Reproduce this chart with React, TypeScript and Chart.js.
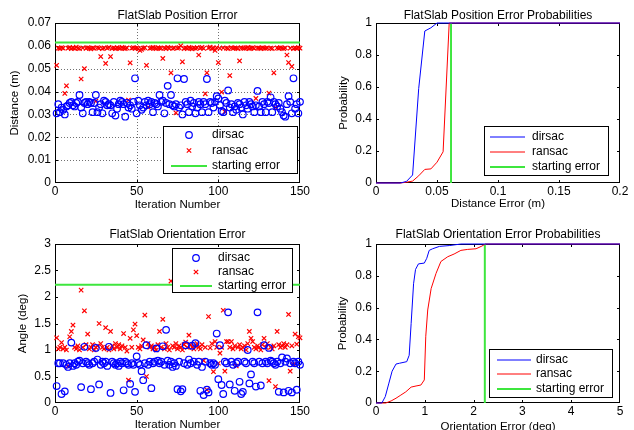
import React, { useEffect, useRef } from "react";
import { Chart, registerables } from "chart.js";

Chart.register(...registerables);

const FONT = '"Liberation Sans", Arial, Helvetica, sans-serif';
const BLUE = "#0000ff";
const RED = "#ff0000";
const GREEN = "#3ee63e";

// ---------- data ----------
const startPosErr = 0.0615;
const startOriErr = 2.23;

const iterTicks = [0, 50, 100, 150];
const posYTicks = [0, 0.01, 0.02, 0.03, 0.04, 0.05, 0.06, 0.07];
const probTicks = [0, 0.2, 0.4, 0.6, 0.8, 1];
const distTicks = [0, 0.05, 0.1, 0.15, 0.2];
const angleTicks = [0, 0.5, 1, 1.5, 2, 2.5, 3];
const oriTicks = [0, 1, 2, 3, 4, 5];

const posDirsac = [
  0.0305, 0.0345, 0.031, 0.033, 0.032, 0.03, 0.0335, 0.034, 0.035, 0.0355,
  0.034, 0.0335, 0.035, 0.0355, 0.0385, 0.033, 0.0305, 0.035, 0.0355, 0.0345,
  0.0355, 0.035, 0.031, 0.035, 0.0385, 0.031, 0.033, 0.0345, 0.0305, 0.036,
  0.0355, 0.034, 0.0345, 0.034, 0.0305, 0.0355, 0.0295, 0.0325, 0.0345, 0.036,
  0.0355, 0.0345, 0.029, 0.035, 0.033, 0.034, 0.0325, 0.0355, 0.0458, 0.0305,
  0.036, 0.034, 0.032, 0.033, 0.0355, 0.034, 0.036, 0.0345, 0.0355, 0.031,
  0.035, 0.0345, 0.0335, 0.0385, 0.0355, 0.036, 0.0305, 0.035, 0.0425, 0.0345,
  0.0385, 0.034, 0.0335, 0.0345, 0.0458, 0.033, 0.034, 0.03, 0.0455, 0.0355,
  0.0345, 0.031, 0.036, 0.0335, 0.035, 0.0305, 0.033, 0.0355, 0.0345, 0.031,
  0.0355, 0.0345, 0.0455, 0.031, 0.0355, 0.035, 0.033, 0.0355, 0.038, 0.037,
  0.034, 0.0315, 0.031, 0.036, 0.035, 0.0405, 0.033, 0.0345, 0.031, 0.0335,
  0.032, 0.035, 0.0345, 0.033, 0.03, 0.0355, 0.034, 0.0325, 0.0355, 0.0345,
  0.0335, 0.031, 0.034, 0.0403, 0.0335, 0.031, 0.0355, 0.0345, 0.031, 0.0355,
  0.035, 0.0375, 0.031, 0.0355, 0.0345, 0.0335, 0.035, 0.0325, 0.031, 0.0295,
  0.029, 0.0345, 0.038, 0.0355, 0.0305, 0.0458, 0.0325, 0.0345, 0.0305, 0.0355,
];

const posRansac = [
  0.0515, 0.059, 0.0588, 0.0592, 0.059, 0.0392, 0.0425, 0.059, 0.0593, 0.0588,
  0.0591, 0.0589, 0.0594, 0.059, 0.0588, 0.0455, 0.0591, 0.05, 0.0589, 0.0592,
  0.059, 0.0587, 0.0591, 0.0589, 0.0358, 0.0592, 0.059, 0.0553, 0.0588, 0.0591,
  0.0523, 0.059, 0.0593, 0.0553, 0.0589, 0.0591, 0.0588, 0.0592, 0.059, 0.0589,
  0.0593, 0.059, 0.0588, 0.0591, 0.0363, 0.0526, 0.059, 0.0592, 0.0589, 0.0591,
  0.0588, 0.058, 0.0585, 0.059, 0.0592, 0.0515, 0.0332, 0.0589, 0.0591, 0.0593,
  0.059, 0.0588, 0.0592, 0.059, 0.0589, 0.0545, 0.0591, 0.0588, 0.0593, 0.059,
  0.0482, 0.0589, 0.0591, 0.0307, 0.059, 0.0592, 0.06, 0.053, 0.0588, 0.0591,
  0.0589, 0.0593, 0.059, 0.0587, 0.0591, 0.0589, 0.0592, 0.056, 0.059, 0.0593,
  0.0589, 0.039, 0.0482, 0.0591, 0.0594, 0.0588, 0.059, 0.058, 0.0592, 0.0527,
  0.0589, 0.0398, 0.0591, 0.0312, 0.059, 0.0588, 0.047, 0.0592, 0.0589, 0.0591,
  0.059, 0.0588, 0.0534, 0.0592, 0.059, 0.0589, 0.0591, 0.0593, 0.0588, 0.059,
  0.0592, 0.0589, 0.037, 0.0591, 0.059, 0.0588, 0.0592, 0.059, 0.0589, 0.0591,
  0.0393, 0.059, 0.0588, 0.0482, 0.033, 0.0591, 0.0589, 0.0592, 0.059, 0.0588,
  0.0591, 0.056, 0.0527, 0.059, 0.051, 0.0588, 0.0591, 0.0589, 0.0592, 0.059,
];

const oriDirsac = [
  0.32, 0.75, 0.75, 0.17, 0.75, 0.22, 0.72, 0.68, 0.75, 1.14,
  0.7, 0.75, 0.72, 0.78, 0.8, 0.3, 0.75, 1.06, 0.78, 0.75,
  0.72, 0.26, 0.75, 0.78, 1.04, 0.82, 0.35, 0.72, 0.78, 0.75,
  0.78, 0.7, 1.06, 0.19, 0.78, 0.75, 0.72, 0.75, 0.7, 0.78,
  0.75, 0.24, 0.78, 0.75, 0.72, 0.36, 0.75, 0.72, 0.21, 0.88,
  0.75, 0.72, 0.6, 0.43, 0.75, 1.09, 0.72, 0.78, 0.28, 0.75,
  0.78, 1.03, 0.8, 0.75, 0.78, 1.07, 0.72, 1.38, 0.8, 0.72,
  0.78, 0.68, 0.75, 0.7, 0.26, 0.78, 0.22, 0.26, 0.75, 1.09,
  0.72, 0.82, 0.75, 1.08, 0.78, 1.13, 0.72, 0.78, 0.23, 0.68,
  0.15, 0.78, 0.25, 0.2, 0.75, 0.72, 0.75, 0.72, 1.31, 0.45,
  1.09, 0.34, 0.17, 0.78, 0.75, 1.71, 0.35, 0.78, 0.72, 0.23,
  0.75, 0.78, 0.4, 0.17, 0.21, 0.78, 0.75, 1.0, 0.37, 0.54,
  0.78, 0.75, 0.31, 1.71, 0.78, 0.33, 0.75, 1.09, 0.78, 0.75,
  1.04, 0.8, 0.78, 0.75, 0.72, 0.78, 0.21, 0.75, 0.86, 0.2,
  0.78, 0.84, 0.23, 0.75, 0.2, 0.78, 0.75, 0.25, 0.78, 0.72,
];

const oriRansac = [
  1.23, 1.02, 1.05, 1.14, 1.02, 1.05, 1.0, 0.7, 1.25, 1.35,
  1.47, 1.05, 1.02, 1.08, 1.0, 2.13, 1.05, 1.74, 1.1, 1.3,
  1.02, 1.05, 1.1, 1.0, 1.05, 1.08, 1.5, 1.12, 1.05, 1.02,
  1.42, 1.05, 1.0, 1.35, 1.08, 1.02, 1.12, 1.05, 1.1, 1.02,
  1.08, 1.31, 1.05, 0.98, 0.43, 1.22, 1.05, 1.38, 1.49, 1.27,
  1.05, 1.02, 1.08, 1.19, 1.66, 0.5, 1.12, 1.05, 1.08, 1.02,
  1.05, 1.0, 1.1, 1.35, 1.05, 1.58, 1.02, 1.12, 1.05, 1.0,
  2.3, 1.08, 1.05, 1.12, 1.02, 1.08, 1.05, 1.0, 1.1, 1.15,
  1.05, 1.28, 1.1, 1.05, 1.02, 1.08, 1.12, 1.05, 1.02, 1.1,
  0.8, 1.05, 0.25, 1.63, 1.04, 1.12, 0.59, 1.16, 1.05, 0.75,
  0.94, 1.05, 1.75, 0.6, 1.16, 1.16, 1.05, 1.16, 1.02, 1.08,
  0.7, 1.05, 1.1, 1.02, 1.05, 1.08, 1.0, 1.12, 1.35, 1.22,
  1.16, 1.05, 1.02, 1.08, 1.05, 1.0, 1.1, 1.22, 1.05, 1.12,
  0.42, 1.05, 1.02, 1.08, 0.31, 1.35, 1.1, 1.05, 1.08, 1.12,
  1.05, 1.1, 1.67, 0.6, 1.08, 0.73, 1.3, 1.11, 1.25, 1.23,
];

const posCdfX = [0, 0.02, 0.025, 0.03, 0.035, 0.04, 0.045, 0.05, 0.055, 0.06, 0.065, 0.2];
const posCdfDirsac = [0, 0, 0.01, 0.05, 0.59, 0.95, 0.97, 1, 1, 1, 1, 1];
const posCdfRansac = [0, 0, 0.005, 0.012, 0.045, 0.085, 0.088, 0.13, 0.195, 1, 1, 1];

const oriCdfDirsacX = [0, 0.12, 0.19, 0.26, 0.33, 0.41, 0.48, 0.63, 0.68, 0.72, 0.77, 0.81, 0.87, 0.99, 1.04, 1.09, 1.16, 1.3, 1.5, 1.74, 5];
const oriCdfDirsacY = [0, 0, 0.04, 0.12, 0.2, 0.245, 0.25, 0.26, 0.3, 0.5, 0.75, 0.84, 0.875, 0.88, 0.91, 0.96, 0.97, 0.985, 0.99, 1, 1];
const oriCdfRansacX = [0, 0.2, 0.31, 0.41, 0.51, 0.61, 0.72, 0.82, 0.92, 0.99, 1.02, 1.06, 1.13, 1.23, 1.33, 1.47, 1.6, 1.74, 1.88, 2.05, 2.17, 2.24, 5];
const oriCdfRansacY = [0, 0, 0.013, 0.03, 0.05, 0.07, 0.1, 0.107, 0.113, 0.145, 0.42, 0.585, 0.72, 0.815, 0.89, 0.92, 0.937, 0.96, 0.966, 0.97, 0.987, 1, 1];

// ---------- helpers ----------
const fmt = (v: number) => String(Math.round(v * 1000) / 1000);
const TL = 3;

const matlabPlugin = {
  id: "matlab",
  beforeDatasetsDraw(chart: any, _a: any, opts: any) {
    const { ctx, chartArea: a, scales } = chart;
    const xs = scales.x;
    const ys = scales.y;
    ctx.save();
    if (opts.grid) {
      ctx.strokeStyle = "#707070";
      ctx.lineWidth = 1;
      ctx.setLineDash([1, 2]);
      ctx.beginPath();
      for (const t of xs.ticks) {
        const px = Math.round(xs.getPixelForValue(t.value)) + 0.5;
        if (px <= a.left + 1 || px >= a.right - 1) continue;
        ctx.moveTo(px, a.top);
        ctx.lineTo(px, a.bottom);
      }
      for (const t of ys.ticks) {
        const py = Math.round(ys.getPixelForValue(t.value)) + 0.5;
        if (py <= a.top + 1 || py >= a.bottom - 1) continue;
        ctx.moveTo(a.left, py);
        ctx.lineTo(a.right, py);
      }
      ctx.stroke();
      ctx.setLineDash([]);
    }
    ctx.strokeStyle = "#000";
    ctx.lineWidth = 1;
    ctx.strokeRect(a.left + 0.5, a.top + 0.5, a.right - a.left - 1, a.bottom - a.top - 1);
    ctx.beginPath();
    for (const t of xs.ticks) {
      let px = Math.round(xs.getPixelForValue(t.value)) + 0.5;
      px = Math.min(Math.max(px, a.left + 0.5), a.right - 0.5);
      ctx.moveTo(px, a.bottom);
      ctx.lineTo(px, a.bottom - TL);
      ctx.moveTo(px, a.top);
      ctx.lineTo(px, a.top + TL);
    }
    for (const t of ys.ticks) {
      let py = Math.round(ys.getPixelForValue(t.value)) + 0.5;
      py = Math.min(Math.max(py, a.top + 0.5), a.bottom - 0.5);
      ctx.moveTo(a.left, py);
      ctx.lineTo(a.left + TL, py);
      ctx.moveTo(a.right, py);
      ctx.lineTo(a.right - TL, py);
    }
    ctx.stroke();
    ctx.restore();
  },
  afterDraw(chart: any, _a: any, opts: any) {
    const { ctx, chartArea: a } = chart;
    ctx.save();
    const cx = (a.left + a.right) / 2;
    ctx.fillStyle = "#000";
    ctx.font = `12px ${FONT}`;
    ctx.textAlign = "center";
    ctx.textBaseline = "alphabetic";
    ctx.fillText(opts.title, cx, opts.titleY);
    ctx.font = `11.5px ${FONT}`;
    ctx.fillText(opts.xLabel, cx, opts.xLabelY);
    ctx.save();
    ctx.translate(opts.yLabelX, (a.top + a.bottom) / 2);
    ctx.rotate(-Math.PI / 2);
    ctx.textBaseline = "middle";
    ctx.fillText(opts.yLabel, 0, 0);
    ctx.restore();
    const lg = opts.legend;
    if (lg) {
      ctx.fillStyle = "#fff";
      ctx.fillRect(lg.x, lg.y, lg.w, lg.h);
      ctx.strokeStyle = "#000";
      ctx.lineWidth = 1;
      ctx.strokeRect(lg.x + 0.5, lg.y + 0.5, lg.w - 1, lg.h - 1);
      ctx.font = `12px ${FONT}`;
      ctx.textAlign = "left";
      ctx.textBaseline = "middle";
      for (const r of lg.rows) {
        const mx = (lg.x0 + lg.x1) / 2;
        ctx.strokeStyle = r.color;
        ctx.beginPath();
        if (r.kind === "circle") {
          ctx.lineWidth = 1.2;
          ctx.arc(mx, r.y, 3.3, 0, Math.PI * 2);
        } else if (r.kind === "cross") {
          ctx.lineWidth = 1.2;
          ctx.moveTo(mx - 2.2, r.y - 2.2);
          ctx.lineTo(mx + 2.2, r.y + 2.2);
          ctx.moveTo(mx + 2.2, r.y - 2.2);
          ctx.lineTo(mx - 2.2, r.y + 2.2);
        } else {
          ctx.lineWidth = r.width || 1;
          ctx.moveTo(lg.x0, r.y);
          ctx.lineTo(lg.x1, r.y);
        }
        ctx.stroke();
        ctx.fillStyle = "#000";
        ctx.fillText(r.label, lg.tx, r.y);
      }
    }
    ctx.restore();
  },
};
Chart.register(matlabPlugin as any);

type Area = { left: number; top: number; right: number; bottom: number };

function axis(min: number, max: number, ticks: number[], isX: boolean, fit: number) {
  return {
    type: "linear",
    min,
    max,
    afterFit: (s: any) => {
      if (isX) s.height = fit;
      else s.width = fit;
    },
    afterBuildTicks: (s: any) => {
      s.ticks = ticks.map((v) => ({ value: v }));
    },
    ticks: {
      autoSkip: false,
      maxRotation: 0,
      minRotation: 0,
      padding: isX ? 1 : 4,
      color: "#000",
      font: { family: FONT, size: 12 },
      callback: (v: number) => fmt(v),
    },
    grid: { display: false, drawTicks: false },
    border: { display: false },
  };
}

function makeConfig(
  w: number,
  h: number,
  area: Area,
  datasets: any[],
  xr: [number, number, number[]],
  yr: [number, number, number[]],
  matlab: any
) {
  return {
    type: "scatter",
    data: { datasets },
    options: {
      animation: false,
      responsive: false,
      devicePixelRatio: 1,
      events: [],
      layout: { padding: { left: 0, top: area.top, right: w - area.right, bottom: 0 } },
      plugins: {
        legend: { display: false },
        tooltip: { enabled: false },
        title: { display: false },
        matlab,
      },
      scales: {
        x: axis(xr[0], xr[1], xr[2], true, h - area.bottom),
        y: axis(yr[0], yr[1], yr[2], false, area.left),
      },
    },
  };
}

const circleDs = (label: string, vals: number[]) => ({
  label,
  data: vals.map((v, i) => ({ x: i + 1, y: v })),
  showLine: false,
  pointStyle: "circle",
  pointRadius: 3.3,
  pointBorderWidth: 1.2,
  pointBorderColor: BLUE,
  pointBackgroundColor: "rgba(0,0,0,0)",
  borderColor: BLUE,
  clip: false,
});
const crossDs = (label: string, vals: number[]) => ({
  label,
  data: vals.map((v, i) => ({ x: i + 1, y: v })),
  showLine: false,
  pointStyle: "crossRot",
  pointRadius: 3.1,
  pointBorderWidth: 1.2,
  pointBorderColor: RED,
  pointBackgroundColor: RED,
  borderColor: RED,
  clip: false,
});
const lineDs = (label: string, xs: number[], ys: number[], color: string, width = 1) => ({
  label,
  data: xs.map((x, i) => ({ x, y: ys[i] })),
  showLine: true,
  borderColor: color,
  borderWidth: width,
  pointRadius: 0,
  tension: 0,
  fill: false,
  clip: false,
});

function Panel({ left, top, w, h, config }: any) {
  const ref = useRef<HTMLCanvasElement>(null);
  useEffect(() => {
    const chart = new Chart(ref.current as HTMLCanvasElement, config);
    return () => chart.destroy();
  }, []);
  return (
    <canvas
      ref={ref}
      width={w}
      height={h}
      style={{ position: "absolute", left, top, width: w, height: h, display: "block" }}
    />
  );
}

const W = 317;
const H = 215;

export default function App() {
  const c1 = makeConfig(
    W,
    H,
    { left: 55, top: 23, right: 300, bottom: 183 },
    [
      circleDs("dirsac", posDirsac),
      crossDs("ransac", posRansac),
      lineDs("starting error", [0, 150], [startPosErr, startPosErr], GREEN, 2),
    ],
    [0, 150, iterTicks],
    [0, 0.07, posYTicks],
    {
      grid: true,
      title: "FlatSlab Position Error",
      titleY: 18.5,
      xLabel: "Iteration Number",
      xLabelY: 208,
      yLabel: "Distance (m)",
      yLabelX: 14.5,
      legend: {
        x: 163, y: 126, w: 135, h: 48, x0: 171, x1: 207, tx: 212,
        rows: [
          { label: "dirsac", kind: "circle", color: BLUE, y: 135 },
          { label: "ransac", kind: "cross", color: RED, y: 150.5 },
          { label: "starting error", kind: "line", color: GREEN, width: 2, y: 166 },
        ],
      },
    }
  );
  const c2 = makeConfig(
    W,
    H,
    { left: 59, top: 23, right: 303, bottom: 183 },
    [
      lineDs("dirsac", posCdfX, posCdfDirsac, BLUE),
      lineDs("ransac", posCdfX, posCdfRansac, RED),
      lineDs("starting error", [startPosErr, startPosErr], [0, 1], GREEN, 2),
    ],
    [0, 0.2, distTicks],
    [0, 1, probTicks],
    {
      grid: false,
      title: "FlatSlab Position Error Probabilities",
      titleY: 18.5,
      xLabel: "Distance Error (m)",
      xLabelY: 207,
      yLabel: "Probability",
      yLabelX: 27,
      legend: {
        x: 167, y: 126, w: 125, h: 50, x0: 173, x1: 208, tx: 215,
        rows: [
          { label: "dirsac", kind: "line", color: BLUE, y: 137 },
          { label: "ransac", kind: "line", color: RED, y: 152 },
          { label: "starting error", kind: "line", color: GREEN, width: 2, y: 167 },
        ],
      },
    }
  );
  const c3 = makeConfig(
    W,
    H,
    { left: 55, top: 29, right: 300, bottom: 188 },
    [
      circleDs("dirsac", oriDirsac),
      crossDs("ransac", oriRansac),
      lineDs("starting error", [0, 150], [startOriErr, startOriErr], GREEN, 2),
    ],
    [0, 150, iterTicks],
    [0, 3, angleTicks],
    {
      grid: false,
      title: "FlatSlab Orientation Error",
      titleY: 23,
      xLabel: "Iteration Number",
      xLabelY: 213,
      yLabel: "Angle (deg)",
      yLabelX: 23,
      legend: {
        x: 172, y: 33, w: 121, h: 45, x0: 180, x1: 212, tx: 218,
        rows: [
          { label: "dirsac", kind: "circle", color: BLUE, y: 43 },
          { label: "ransac", kind: "cross", color: RED, y: 57 },
          { label: "starting error", kind: "line", color: GREEN, width: 2, y: 71 },
        ],
      },
    }
  );
  const c4 = makeConfig(
    W,
    H,
    { left: 59, top: 29, right: 303, bottom: 188 },
    [
      lineDs("dirsac", oriCdfDirsacX, oriCdfDirsacY, BLUE),
      lineDs("ransac", oriCdfRansacX, oriCdfRansacY, RED),
      lineDs("starting error", [startOriErr, startOriErr], [0, 1], GREEN, 2),
    ],
    [0, 5, oriTicks],
    [0, 1, probTicks],
    {
      grid: false,
      title: "FlatSlab Orientation Error Probabilities",
      titleY: 23,
      xLabel: "Orientation Error (deg)",
      xLabelY: 215,
      yLabel: "Probability",
      yLabelX: 26,
      legend: {
        x: 172, y: 134, w: 124, h: 49, x0: 180, x1: 214, tx: 219,
        rows: [
          { label: "dirsac", kind: "line", color: BLUE, y: 145 },
          { label: "ransac", kind: "line", color: RED, y: 159 },
          { label: "starting error", kind: "line", color: GREEN, width: 2, y: 174 },
        ],
      },
    }
  );
  return (
    <div
      style={{
        position: "absolute",
        left: 0,
        top: 0,
        width: 634,
        height: 430,
        background: "#fff",
        overflow: "hidden",
      }}
    >
      <Panel left={0} top={0} w={W} h={H} config={c1} />
      <Panel left={317} top={0} w={W} h={H} config={c2} />
      <Panel left={0} top={215} w={W} h={H} config={c3} />
      <Panel left={317} top={215} w={W} h={H} config={c4} />
    </div>
  );
}
